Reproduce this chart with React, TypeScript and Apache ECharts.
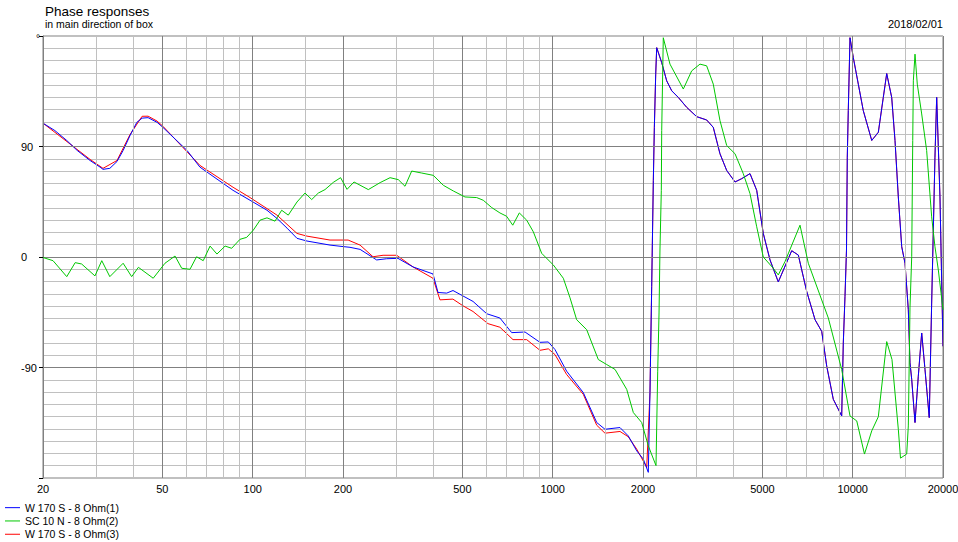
import React, { useEffect, useRef } from "react";
import * as echarts from "echarts";

const FONT = "'Liberation Sans', Arial, sans-serif";

const blueFreq = [20, 21.9, 24.0, 26.0, 28.7, 31.0, 31.7, 33.4, 35.3, 37.0,
  39.0, 41.1, 42.8, 44.8, 48.0, 50.2, 60.4, 66.7, 86, 98,
  111.6, 120.5, 130.2, 140.5, 151.7, 181, 201.5, 211, 228, 259,
  279.6, 305, 342.4, 399, 414.7, 443.3, 465.3, 542.6, 602.7, 667,
  730, 808.9, 907, 966.9, 1018, 1113, 1265, 1402, 1494, 1676,
  1786, 1906, 2005, 2083, 2110, 2138, 2165, 2182, 2205, 2222,
  2309, 2399, 2493, 2622, 2797, 3020, 3260, 3430, 3611, 3802,
  4053, 4266, 4547, 4787, 5035, 5302, 5649, 6262, 6587, 7027,
  7491, 7885, 8193, 8617, 9191, 9305, 9426, 9535, 9594, 9668,
  9796, 10047, 10440, 10847, 11574, 12175, 12649, 12983, 13490, 13838,
  14193, 14568, 14942, 15326, 15524, 15731, 16134, 16547, 16983, 17418,
  17999, 18334, 18804, 19052, 19541, 20000];
const bluePhase = [109, 103, 94.9, 86.8, 78.6, 73.2, 71.4, 72.2, 77.8, 86.8,
  98.9, 109.7, 113.1, 113.5, 109.7, 105.6, 86.8, 73.2, 54.3, 46.2,
  38.1, 31.4, 23.5, 15.2, 13.0, 9.7, 8.4, 7.9, 6.2, -2.4,
  -1.4, -1.1, -8.1, -13.8, -28.9, -29.4, -27.3, -36.2, -46.2, -49.7,
  -61.6, -61.1, -69.5, -69.2, -75.4, -93.0, -110.5, -134.8, -140.3, -138.9,
  -145.7, -157.9, -164.6, -175.4, -110.5, -24.1, 62.4, 105.6, 148.9, 170.5,
  158.3, 143.5, 135.4, 130.0, 121.9, 114.3, 111.6, 105.6, 84.1, 70.5,
  61.1, 63.8, 67.9, 54.3, 19.2, -2.4, -20.3, 5.1, 1.6, -28.1,
  -51.1, -60.6, -88.9, -115.9, -129.5, -70.0, -32.2, 5.7, 81.3, 119.2,
  178.6, 162.4, 140.8, 119.2, 94.9, 101.6, 130.0, 149.4, 130.0, 94.9,
  48.9, 8.4, -5.1, -43.0, -86.2, -99.7, -134.8, -97.1, -61.9, -91.6,
  -130.8, -37.5, 81.3, 130.0, 48.9, -72.7];

// red trace below 2.1 kHz; above it coincides with the blue trace
const redLowFreq = [20, 28.7, 31.7, 35.3, 39.0, 42.8, 44.8, 48.0, 50.2, 66.7,
  86, 98, 120.5, 140.5, 151.7, 181, 208, 228, 251.8, 272,
  302, 342.4, 399, 421, 465, 502, 542.6, 608.6, 667, 737.4,
  819, 907, 967, 1018, 1113, 1265, 1402, 1494, 1676, 1786,
  1906, 2058];
const redLowPhase = [109, 79.5, 72.2, 78.6, 99.7, 114.6, 114.7, 110.7, 106.5, 74.6,
  56.8, 48.4, 34.1, 19.2, 17.0, 13.8, 13.8, 9.7, 0.2, 1.4,
  1.4, -8.1, -17.3, -34.9, -34.3, -39.7, -44.4, -54.3, -57.2, -67.3,
  -67.3, -76.0, -74.8, -79.5, -95.7, -111.9, -137.0, -143.5, -142.1, -146.4,
  -156.5, -171.3];
const redSplitFreq = 2100;

const greenFreq = [20, 21.6, 24.0, 25.6, 26.9, 29.8, 31.4, 33.4, 37.0, 39.5,
  41.6, 46.6, 51.0, 55.1, 58.0, 61.8, 65.0, 68.4, 72.1, 76.0,
  80.9, 85.1, 90.7, 95.5, 100.5, 105.8, 111.6, 118.7, 124.9, 131.4,
  140.5, 149.4, 157.3, 165.5, 174.2, 185.7, 196.3, 206.3, 217.6, 242.9,
  266, 287, 305.8, 321.9, 338.9, 365.9, 400, 432, 466.3, 510,
  558, 587, 626, 667, 702, 736, 774, 819, 862, 919,
  1005, 1085, 1142, 1202, 1298, 1419, 1514, 1614, 1765, 1857,
  1980, 2083, 2210, 2239, 2262, 2278, 2302, 2309, 2337, 2460,
  2725, 2906, 3097, 3260, 3430, 3611, 3802, 4053, 4318, 4547,
  4787, 5035, 5437, 5649, 5946, 6674, 7113, 8294, 9191, 9796,
  10316, 10947, 11574, 12175, 12983, 13520, 14193, 14433, 15136, 15326,
  15524, 15731, 15855, 15928, 16134, 16419, 16983, 17641, 18334, 18804,
  19295, 20000];
const greenPhase = [-0.4, -3.0, -16.0, -4.6, -5.7, -15.4, -3.0, -16.0, -5.1, -16.0,
  -8.4, -17.3, -5.1, 0.8, -9.2, -10.0, 0.2, -3.0, 8.9, 2.4,
  8.9, 7.1, 14.4, 16.0, 21.9, 30.0, 31.9, 29.2, 38.1, 34.1,
  44.8, 52.1, 46.8, 52.1, 54.9, 60.8, 64.6, 55.1, 61.1, 54.9,
  60.6, 64.6, 63.0, 57.6, 70.0, 68.4, 66.5, 58.4, 53.8, 48.9,
  48.4, 46.2, 40.3, 35.9, 33.2, 25.9, 35.9, 30.0, 20.5, 3.0,
  -6.5, -17.3, -33.2, -51.1, -59.2, -83.5, -87.6, -91.6, -107.8, -126.7,
  -134.8, -153.8, -169.9, -93.0, -45.6, 5.7, 54.3, 103, 178.6, 157.1,
  136.8, 151.6, 157.1, 155.7, 140.8, 111.1, 90.8, 84.1, 67.9, 51.6,
  24.6, 0, -9.2, -14.6, -3.8, 25.9, -5.1, -49.7, -91.6, -129.5,
  -133.5, -160.5, -141.6, -130.1, -68.9, -83.5, -140.3, -163.8, -160.5, -137.6,
  -41.4, 0.2, 94.9, 143.5, 165.2, 140.8, 116.5, 86.8, 32.7, 8.4,
  -10.5, -43.0];

const seriesNames = ["W 170 S - 8 Ohm(1)", "SC 10 N - 8 Ohm(2)", "W 170 S - 8 Ohm(3)"];
const xLabelFreqs = [20, 50, 100, 200, 500, 1000, 2000, 5000, 10000, 20000];
const lightGridFreqs = [30, 40, 60, 70, 80, 90, 150, 300, 400, 600, 700, 800, 900, 1500,
  3000, 4000, 6000, 7000, 8000, 9000, 15000];
const majorPhases = [-90, 0, 90];

const pairs = (f: number[], p: number[]) => f.map((v, i) => [v, p[i]]);

export default function App() {
  const ref = useRef<HTMLDivElement>(null);
  useEffect(() => {
    document.body.style.margin = "0";
    const chart = echarts.init(ref.current!, null, { renderer: "svg" });

    const redFreq = [...redLowFreq, ...blueFreq.filter((f) => f > redSplitFreq)];
    const redPhase = [...redLowPhase, ...bluePhase.filter((_, i) => blueFreq[i] > redSplitFreq)];

    const gridMarks: any[] = [
      ...lightGridFreqs.map((f) => ({ xAxis: f, lineStyle: { color: "#c0c0c0", width: 1, type: "solid" }, label: { show: false } })),
      ...xLabelFreqs.map((f) => ({
        xAxis: f,
        lineStyle: { color: "#808080", width: 1, type: "solid" },
        label: { show: true, position: "start", distance: 5, formatter: String(f), color: "#000", fontSize: 11, fontFamily: FONT },
      })),
      ...majorPhases.map((p) => ({ yAxis: p, lineStyle: { color: "#808080", width: 1, type: "solid" }, label: { show: false } })),
    ];

    chart.setOption({
      animation: false,
      backgroundColor: "#ffffff",
      grid: { left: 43, right: 15, top: 36, bottom: 64, show: true, borderColor: "#808080", borderWidth: 1, backgroundColor: "transparent" },
      xAxis: {
        type: "log",
        logBase: 10,
        min: 20,
        max: 20000,
        axisLine: { show: true, lineStyle: { color: "#808080" } },
        axisTick: { show: false },
        axisLabel: { show: false },
        splitLine: { show: false },
        minorTick: { show: false },
        minorSplitLine: { show: false },
      },
      yAxis: [
        {
          type: "value",
          min: -180,
          max: 180,
          interval: 10,
          axisLine: { show: true, lineStyle: { color: "#808080" } },
          axisTick: { show: false },
          axisLabel: { show: false },
          splitLine: { show: true, lineStyle: { color: "#c0c0c0", width: 1 } },
        },
        {
          type: "value",
          position: "left",
          min: -180,
          max: 180,
          interval: 90,
          axisLine: { show: false },
          axisTick: { show: true, length: 4, inside: false, lineStyle: { color: "#000" } },
          axisLabel: {
            show: true,
            align: "left",
            margin: 22,
            color: "#000",
            fontSize: 11,
            fontFamily: FONT,
            formatter: (v: number) => (Math.abs(v) === 180 ? "" : String(v)),
          },
          splitLine: { show: false },
        },
      ],
      legend: {
        orient: "vertical",
        left: 5,
        top: 501,
        padding: 0,
        itemGap: 0,
        itemWidth: 15,
        itemHeight: 1,
        icon: "rect",
        selectedMode: false,
        textStyle: { fontSize: 10.5, fontFamily: FONT, color: "#000", lineHeight: 13.3 },
        data: seriesNames,
      },
      graphic: [
        { type: "text", x: 45, y: 11, style: { text: "Phase responses", fontSize: 13.5, fontFamily: FONT, fill: "#000", align: "left", verticalAlign: "middle" } },
        { type: "text", x: 45, y: 24, style: { text: "in main direction of box", fontSize: 10.5, fontFamily: FONT, fill: "#000", align: "left", verticalAlign: "middle" } },
        { type: "text", x: 943, y: 24, style: { text: "2018/02/01", fontSize: 11, fontFamily: FONT, fill: "#000", align: "right", verticalAlign: "middle" } },
        { type: "text", x: 36, y: 38, style: { text: "°", fontSize: 10, fontFamily: FONT, fill: "#000", align: "left", verticalAlign: "middle" } },
      ],
      series: [
        {
          name: "grid",
          type: "line",
          data: [],
          z: 1,
          silent: true,
          markLine: { silent: true, symbol: ["none", "none"], animation: false, emphasis: { disabled: true }, data: gridMarks },
        },
        {
          name: seriesNames[2],
          type: "line",
          data: pairs(redFreq, redPhase),
          showSymbol: false,
          symbol: "none",
          z: 3,
          itemStyle: { color: "#ff0000" },
          lineStyle: { color: "#ff0000", width: 1 },
        },
        {
          name: seriesNames[0],
          type: "line",
          data: pairs(blueFreq, bluePhase),
          showSymbol: false,
          symbol: "none",
          z: 4,
          itemStyle: { color: "#0000ff" },
          lineStyle: { color: "#0000ff", width: 1 },
        },
        {
          name: seriesNames[1],
          type: "line",
          data: pairs(greenFreq, greenPhase),
          showSymbol: false,
          symbol: "none",
          z: 5,
          itemStyle: { color: "#00c800" },
          lineStyle: { color: "#00c800", width: 1 },
        },
      ],
    });
    return () => chart.dispose();
  }, []);
  return <div ref={ref} style={{ width: 958, height: 542 }} />;
}
